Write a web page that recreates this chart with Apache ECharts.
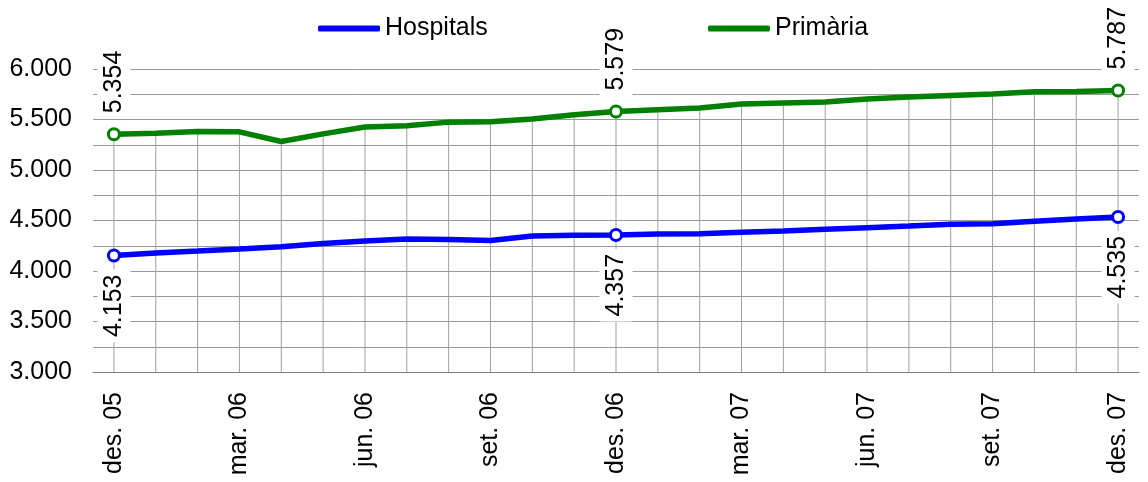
<!DOCTYPE html>
<html>
<head>
<meta charset="utf-8">
<style>
html,body{margin:0;padding:0;background:#fff;}
#chart{width:1148px;height:482px;}
</style>
<script src="https://cdn.jsdelivr.net/npm/echarts@6/dist/echarts.min.js"></script>
</head>
<body>
<div id="chart"></div>
<script>
const categories = ["des. 05","gen. 06","feb. 06","mar. 06","abr. 06","mai. 06","jun. 06","jul. 06","ago. 06","set. 06","oct. 06","nov. 06",
  "des. 06","gen. 07","feb. 07","mar. 07","abr. 07","mai. 07","jun. 07","jul. 07","ago. 07","set. 07","oct. 07","nov. 07","des. 07"];
const hospitals = [4153,4178,4197,4217,4240,4273,4297,4316,4313,4303,4346,4355,4357,4366,4368,4383,4395,4413,4429,4445,4462,4468,4492,4515,4535];
const primaria  = [5354,5365,5381,5378,5282,5358,5425,5437,5474,5477,5504,5547,5579,5596,5613,5653,5663,5673,5702,5722,5738,5752,5775,5778,5787];
const labeledIdx = [0,12,24];
const yTicks = [3000,3500,4000,4500,5000,5500,6000];

const FONT = "'Liberation Sans', Arial, sans-serif";
const FS = 25;
const fmt = v => String(v).replace(/\B(?=(\d{3})+(?!\d))/g, '.');

function buildData(values, color, above) {
  return values.map((v, i) => {
    if (labeledIdx.includes(i)) {
      return {
        value: v,
        symbol: 'circle',
        symbolSize: 11,
        itemStyle: {color: '#fff', borderColor: color, borderWidth: 3},
        label: {
          show: true,
          position: above ? 'top' : 'bottom',
          distance: above ? 9 : 7,
          rotate: 90,
          align: above ? 'left' : 'right',
          verticalAlign: 'middle',
          formatter: p => fmt(p.value),
          fontSize: FS, fontFamily: FONT, color: '#000',
          backgroundColor: '#fff', padding: [4, 5]
        }
      };
    }
    return {value: v, symbol: 'none'};
  });
}

const chart = echarts.init(document.getElementById('chart'), null, {renderer: 'canvas'});
chart.setOption({
  animation: false,
  backgroundColor: '#fff',
  grid: {left: 93, right: 9, top: 69, bottom: 110, containLabel: false},
  legend: [
    {data: ['Hospitals'], left: 313, top: 11, itemWidth: 62, itemHeight: 6, icon: 'roundRect',
     textStyle: {fontSize: FS, fontFamily: FONT, color: '#000'}},
    {data: ['Primària'], left: 703, top: 11, itemWidth: 62, itemHeight: 6, icon: 'roundRect',
     textStyle: {fontSize: FS, fontFamily: FONT, color: '#000'}}
  ],
  xAxis: {
    type: 'category',
    data: categories,
    boundaryGap: true,
    axisLine: {show: true, lineStyle: {color: '#808080', width: 1}},
    axisTick: {show: false},
    splitLine: {show: false},
    axisLabel: {rotate: 90, interval: 2, margin: 20, fontSize: FS, fontFamily: FONT, color: '#000'}
  },
  yAxis: {
    type: 'value',
    min: 3000, max: 6000, interval: 250,
    axisLine: {show: false},
    axisTick: {show: false},
    splitLine: {show: true, lineStyle: {color: '#999', width: 1}},
    axisLabel: {
      margin: 21, fontSize: FS, fontFamily: FONT, color: '#000',
      formatter: v => yTicks.includes(v) ? fmt(v) : ''
    }
  },
  series: [
    {
      name: 'drop', type: 'bar', data: primaria, barWidth: 1, silent: true,
      itemStyle: {color: '#a0a0a0'}, z: 1, legendHoverLink: false
    },
    {
      name: 'Hospitals', type: 'line', data: buildData(hospitals, '#0000ff', false),
      color: '#0000ff', lineStyle: {width: 5.5, color: '#0000ff'}, z: 3
    },
    {
      name: 'Primària', type: 'line', data: buildData(primaria, '#008000', true),
      color: '#008000', lineStyle: {width: 5.5, color: '#008000'}, z: 3
    }
  ]
});
</script>
</body>
</html>
